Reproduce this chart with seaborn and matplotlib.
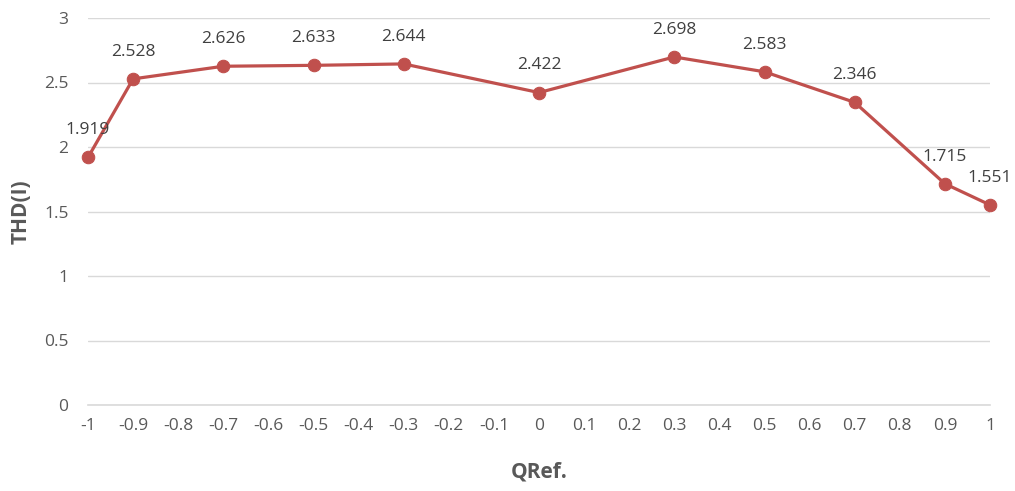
import matplotlib
matplotlib.use("Agg")
import matplotlib.pyplot as plt
import seaborn as sns
import pandas as pd
import numpy as np

qref = [-1, -0.9, -0.7, -0.5, -0.3, 0, 0.3, 0.5, 0.7, 0.9, 1]
thd = [1.919, 2.528, 2.626, 2.633, 2.644, 2.422, 2.698, 2.583, 2.346, 1.715, 1.551]
x_ticks = [round(v, 1) for v in np.arange(-1, 1.01, 0.1)]
x_tick_labels = ["-1", "-0.9", "-0.8", "-0.7", "-0.6", "-0.5", "-0.4", "-0.3", "-0.2", "-0.1",
                 "0", "0.1", "0.2", "0.3", "0.4", "0.5", "0.6", "0.7", "0.8", "0.9", "1"]
y_ticks = [0, 0.5, 1, 1.5, 2, 2.5, 3]
y_tick_labels = ["0", "0.5", "1", "1.5", "2", "2.5", "3"]

sns.set_style("white")
plt.rcParams["font.family"] = ["Open Sans", "DejaVu Sans"]

text_color = "#595959"
line_color = "#C0504D"

df = pd.DataFrame({"QRef": qref, "THD": thd})

fig = plt.figure(figsize=(10.15, 4.91), dpi=100)
ax = fig.add_axes([88 / 1015, 1 - 405 / 491, (990 - 88) / 1015, (405 - 18) / 491])

sns.lineplot(data=df, x="QRef", y="THD", ax=ax, color=line_color, linewidth=2.3,
             marker="o", markersize=9, markeredgecolor=line_color, clip_on=False, zorder=3)

for xv, yv in zip(qref, thd):
    ax.annotate(f"{yv:.3f}", (xv, yv), xytext=(0, 19.5), textcoords="offset points",
                ha="center", va="center", fontsize=12.5, color="#404040")

ax.set_xlim(-1, 1)
ax.set_ylim(0, 3)
ax.set_xticks(x_ticks)
ax.set_xticklabels(x_tick_labels)
ax.set_yticks(y_ticks)
ax.set_yticklabels(y_tick_labels)
ax.tick_params(axis="both", length=0, labelsize=12.5, labelcolor=text_color)
ax.tick_params(axis="x", pad=9)
ax.tick_params(axis="y", pad=14)

ax.grid(axis="y", color="#D9D9D9", linewidth=1.0)
ax.grid(axis="x", visible=False)
for side in ["top", "right", "left"]:
    ax.spines[side].set_visible(False)
ax.spines["bottom"].set_color("#D9D9D9")
ax.spines["bottom"].set_linewidth(1.2)

ax.set_xlabel("QRef.", fontsize=15, fontweight="bold", color=text_color, labelpad=20)
ax.set_ylabel("THD(I)", fontsize=15, fontweight="bold", color=text_color, labelpad=9)

fig.savefig("out.png", dpi=100, facecolor="white")
